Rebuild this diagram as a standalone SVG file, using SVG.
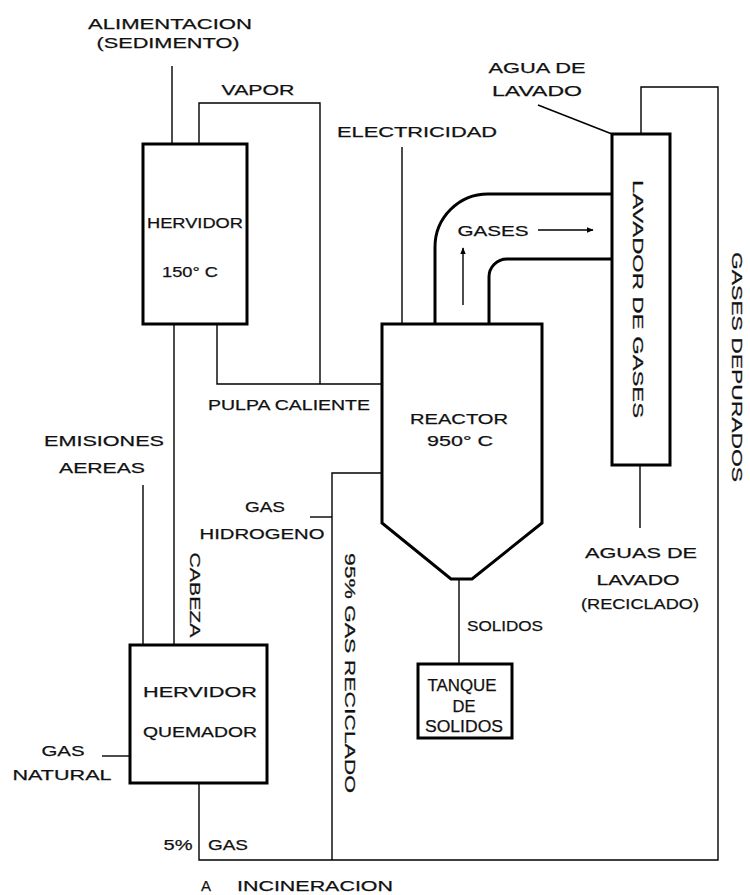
<svg xmlns="http://www.w3.org/2000/svg" width="750" height="895" viewBox="0 0 750 895">
<style>
  .bg{fill:#ffffff}
  .box{fill:none;stroke:#000;stroke-width:3}
  .pipe{fill:none;stroke:#000;stroke-width:3}
  .ln{fill:none;stroke:#000;stroke-width:1.4}
  .t{font-family:"Liberation Sans","DejaVu Sans",sans-serif;font-size:15px;fill:#111;text-anchor:middle;stroke:#111;stroke-width:0.25}
  .tb{font-family:"Liberation Sans","DejaVu Sans",sans-serif;font-size:16px;fill:#111;text-anchor:middle;stroke:#111;stroke-width:0.25}
</style>
<defs>
  <marker id="ah" viewBox="0 0 10 10" refX="9" refY="5" markerWidth="7" markerHeight="7" markerUnits="userSpaceOnUse" orient="auto">
    <path d="M0 1 L10 5 L0 9 Z" fill="#000"/>
  </marker>
</defs>
<rect class="bg" x="0" y="0" width="750" height="895"/>

<g id="connectors">
  <path class="ln" d="M172 66 V144"/>
  <path class="ln" d="M199 144 V103 H320 V384"/>
  <path class="ln" d="M217 324 V384 H382"/>
  <path class="ln" d="M174 324 V645"/>
  <path class="ln" d="M143 485 V645"/>
  <path class="ln" d="M102 756 H130"/>
  <path class="ln" d="M199 783 V860 H718 V87 H641 V134"/>
  <path class="ln" d="M332 860 V473 H382"/>
  <path class="ln" d="M310 517 H332"/>
  <path class="ln" d="M402 147 V324"/>
  <path class="ln" d="M538 105 L612 134"/>
  <path class="ln" d="M640 465 V528"/>
  <path class="ln" d="M459 579 V664"/>
  <path class="ln" d="M538 230 H593" marker-end="url(#ah)"/>
  <path class="ln" d="M463 305 V248" marker-end="url(#ah)"/>
  <path class="pipe" d="M435 324 V247 A53 53 0 0 1 488 194 H613"/>
  <path class="pipe" d="M489 324 V277 A18 18 0 0 1 507 259 H613"/>
</g>

<g id="labels">
  <text class="t" x="170" y="29" textLength="164" lengthAdjust="spacingAndGlyphs">ALIMENTACION</text>
  <text class="t" x="168" y="48" textLength="143" lengthAdjust="spacingAndGlyphs">(SEDIMENTO)</text>
  <text class="t" x="258" y="95" textLength="73" lengthAdjust="spacingAndGlyphs">VAPOR</text>
  <text class="t" x="417" y="137" textLength="160" lengthAdjust="spacingAndGlyphs">ELECTRICIDAD</text>
  <text class="t" x="537" y="73" textLength="97" lengthAdjust="spacingAndGlyphs">AGUA DE</text>
  <text class="t" x="537" y="96" textLength="90" lengthAdjust="spacingAndGlyphs">LAVADO</text>
  <text class="t" x="289" y="410" textLength="162" lengthAdjust="spacingAndGlyphs">PULPA CALIENTE</text>
  <text class="t" x="104" y="446" textLength="120" lengthAdjust="spacingAndGlyphs">EMISIONES</text>
  <text class="t" x="102" y="473" textLength="86" lengthAdjust="spacingAndGlyphs">AEREAS</text>
  <text class="t" x="265" y="512" textLength="40" lengthAdjust="spacingAndGlyphs">GAS</text>
  <text class="t" x="262" y="539" textLength="125" lengthAdjust="spacingAndGlyphs">HIDROGENO</text>
  <text class="t" x="493" y="236" textLength="71" lengthAdjust="spacingAndGlyphs">GASES</text>
  <text class="t" x="641" y="558" textLength="112" lengthAdjust="spacingAndGlyphs">AGUAS DE</text>
  <text class="t" x="638" y="585" textLength="83" lengthAdjust="spacingAndGlyphs">LAVADO</text>
  <text class="t" x="640" y="609" textLength="118" lengthAdjust="spacingAndGlyphs">(RECICLADO)</text>
  <text class="t" x="505" y="631" textLength="76" lengthAdjust="spacingAndGlyphs">SOLIDOS</text>
  <text class="t" x="63" y="756" textLength="43" lengthAdjust="spacingAndGlyphs">GAS</text>
  <text class="t" x="62" y="780" textLength="99" lengthAdjust="spacingAndGlyphs">NATURAL</text>
  <text class="t" x="178" y="850" textLength="29" lengthAdjust="spacingAndGlyphs">5%</text>
  <text class="t" x="228" y="850" textLength="40" lengthAdjust="spacingAndGlyphs">GAS</text>
  <text class="t" x="206" y="891">A</text>
  <text class="t" x="315" y="891" textLength="156" lengthAdjust="spacingAndGlyphs">INCINERACION</text>
  <text class="t" transform="translate(189.5 595) rotate(90)" x="0" y="0" textLength="85" lengthAdjust="spacingAndGlyphs">CABEZA</text>
  <text class="t" transform="translate(344.5 673) rotate(90)" x="0" y="0" textLength="240" lengthAdjust="spacingAndGlyphs">95% GAS RECICLADO</text>
  <text class="t" transform="translate(731.5 367) rotate(90)" x="0" y="0" textLength="230" lengthAdjust="spacingAndGlyphs">GASES  DEPURADOS</text>
</g>

<g id="hervidor">
  <rect class="box" x="143" y="144" width="104" height="180"/>
  <text class="t" x="195" y="228" textLength="96" lengthAdjust="spacingAndGlyphs">HERVIDOR</text>
  <text class="t" x="190" y="277" textLength="56" lengthAdjust="spacingAndGlyphs">150° C</text>
</g>

<g id="reactor">
  <polygon class="box" points="382,324 542,324 542,523 472,579 451,579 382,523"/>
  <text class="t" x="459" y="424" textLength="98" lengthAdjust="spacingAndGlyphs">REACTOR</text>
  <text class="t" x="460" y="446" textLength="66" lengthAdjust="spacingAndGlyphs">950° C</text>
</g>

<g id="lavador">
  <rect class="box" x="612" y="134" width="58" height="331"/>
  <text class="t" transform="translate(632.5 299) rotate(90)" x="0" y="0" textLength="238" lengthAdjust="spacingAndGlyphs">LAVADOR  DE  GASES</text>
</g>

<g id="quemador">
  <rect class="box" x="130" y="645" width="137" height="138"/>
  <text class="t" x="200" y="697" textLength="114" lengthAdjust="spacingAndGlyphs">HERVIDOR</text>
  <text class="t" x="200" y="737" textLength="114" lengthAdjust="spacingAndGlyphs">QUEMADOR</text>
</g>

<g id="tanque">
  <rect class="box" x="418" y="664" width="94" height="74"/>
  <text class="tb" x="462" y="691" textLength="69" lengthAdjust="spacingAndGlyphs">TANQUE</text>
  <text class="tb" x="464" y="712" textLength="23" lengthAdjust="spacingAndGlyphs">DE</text>
  <text class="tb" x="464" y="732" textLength="78" lengthAdjust="spacingAndGlyphs">SOLIDOS</text>
</g>
</svg>
